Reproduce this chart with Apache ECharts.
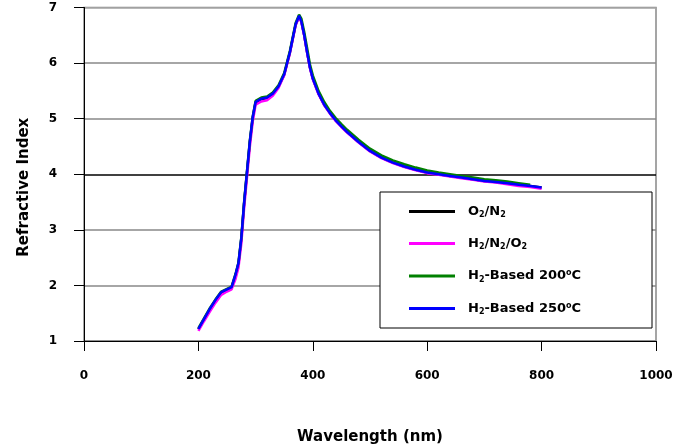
<!DOCTYPE html>
<html>
<head>
<meta charset="utf-8">
<script src="https://cdn.jsdelivr.net/npm/echarts@6/dist/echarts.min.js"></script>
<style>
  html, body { margin: 0; padding: 0; background: #fff; }
  #main { width: 685px; height: 448px; }
</style>
</head>
<body>
<div id="main"></div>
<script>
// wavelengths (nm) shared by the series
const wavelength = [200, 210, 220, 230, 240, 250, 258, 265, 270, 275, 280, 285, 290, 295, 300, 310, 320, 330, 340, 350,
  360, 370, 376, 380, 385, 390, 395, 400, 410, 420, 430, 440, 450, 460, 480, 500, 520, 540, 560, 580,
  600, 620, 640, 660, 680, 700, 720, 740, 760, 780, 800];

const o2n2 = [1.21, 1.39, 1.57, 1.73, 1.87, 1.92, 1.96, 2.18, 2.38, 2.83, 3.48, 4.03, 4.58, 5.01, 5.29, 5.35, 5.37, 5.44, 5.57, 5.79,
  6.19, 6.69, 6.84, 6.75, 6.50, 6.20, 5.92, 5.72, 5.45, 5.25, 5.10, 4.97, 4.86, 4.76, 4.58, 4.42, 4.30, 4.21, 4.14, 4.08,
  4.03, 4.00, 3.97, 3.94, 3.91, 3.88, 3.86, 3.84, 3.81, 3.79, 3.76];

const h2n2o2 = [1.18, 1.36, 1.53, 1.69, 1.83, 1.89, 1.93, 2.12, 2.32, 2.75, 3.40, 3.95, 4.50, 4.95, 5.25, 5.31, 5.33, 5.41, 5.55, 5.78,
  6.18, 6.68, 6.83, 6.74, 6.49, 6.19, 5.91, 5.71, 5.44, 5.24, 5.09, 4.96, 4.85, 4.75, 4.57, 4.41, 4.29, 4.20, 4.13, 4.07,
  4.02, 3.99, 3.96, 3.93, 3.90, 3.87, 3.85, 3.82, 3.79, 3.77, 3.74];

// 200C series stops at 780 nm
const h2based200 = [1.23, 1.41, 1.59, 1.75, 1.89, 1.94, 1.98, 2.21, 2.41, 2.86, 3.51, 4.06, 4.61, 5.04, 5.32, 5.38, 5.40, 5.47, 5.60, 5.82,
  6.22, 6.72, 6.87, 6.80, 6.56, 6.27, 5.98, 5.78, 5.50, 5.30, 5.14, 5.01, 4.90, 4.80, 4.62, 4.46, 4.34, 4.25, 4.18, 4.12,
  4.07, 4.03, 4.00, 3.97, 3.94, 3.91, 3.89, 3.87, 3.84, 3.81, null];

const h2based250 = [1.22, 1.40, 1.58, 1.74, 1.88, 1.93, 1.97, 2.20, 2.40, 2.85, 3.50, 4.05, 4.60, 5.03, 5.30, 5.36, 5.38, 5.45, 5.58, 5.80,
  6.20, 6.70, 6.85, 6.75, 6.50, 6.20, 5.92, 5.72, 5.45, 5.25, 5.10, 4.97, 4.86, 4.76, 4.58, 4.42, 4.30, 4.21, 4.14, 4.08,
  4.03, 4.00, 3.97, 3.94, 3.91, 3.88, 3.86, 3.84, 3.81, 3.79, 3.76];

const seriesNames = ['O2/N2', 'H2/N2/O2', 'H2-Based 200C', 'H2-Based 250C'];
const seriesColors = ['#000000', '#ff00ff', '#008000', '#0000ff'];
const seriesValues = [o2n2, h2n2o2, h2based200, h2based250];

// legend labels with sub/superscripts
const legendRich = {
  'O2/N2': '{b|O}{s|2}{b|/N}{s|2}',
  'H2/N2/O2': '{b|H}{s|2}{b|/N}{s|2}{b|/O}{s|2}',
  'H2-Based 200C': '{b|H}{s|2}{b|-Based 200}{p|o}{b|C}',
  'H2-Based 250C': '{b|H}{s|2}{b|-Based 250}{p|o}{b|C}'
};

const font = 'DejaVu Sans, Liberation Sans, Arial, sans-serif';

function pairs(xs, ys) {
  const out = [];
  xs.forEach((x, i) => { if (ys[i] != null) out.push([x, ys[i]]); });
  return out;
}

const chart = echarts.init(document.getElementById('main'));
chart.setOption({
  animation: false,
  backgroundColor: '#fff',
  grid: {
    left: 84, right: 29, top: 7.5, bottom: 107,
    outerBoundsMode: 'none',
    show: true, borderColor: '#888888', borderWidth: 1.5, backgroundColor: 'transparent'
  },
  graphic: [{
    type: 'rect', left: 379.5, top: 191.5, z: 10,
    shape: { width: 272, height: 136 },
    style: { fill: '#fff', stroke: '#000', lineWidth: 1 }
  }],
  legend: {
    orient: 'vertical',
    left: 409, top: 205,
    padding: 0,
    icon: 'rect',
    itemWidth: 46, itemHeight: 3, itemGap: 18,
    z: 20,
    data: seriesNames,
    formatter: name => legendRich[name],
    textStyle: {
      fontFamily: font, fontWeight: 'bold', fontSize: 13, color: '#000',
      padding: [0, 0, 0, 8],
      rich: {
        b: { fontFamily: font, fontWeight: 'bold', fontSize: 13, color: '#000' },
        s: { fontFamily: font, fontWeight: 'bold', fontSize: 8, color: '#000', padding: [7, 0, 0, 0] },
        p: { fontFamily: font, fontWeight: 'bold', fontSize: 8, color: '#000', padding: [0, 0, 6, 0] }
      }
    }
  },
  xAxis: {
    type: 'value', min: 0, max: 1000, interval: 200,
    name: 'Wavelength (nm)', nameLocation: 'middle', nameGap: 89,
    nameTextStyle: { fontFamily: font, fontWeight: 'bold', fontSize: 15, color: '#000' },
    axisLine: { onZero: false, lineStyle: { color: '#000', width: 1 } },
    axisTick: { show: true, inside: false, length: 10, lineStyle: { color: '#000' } },
    axisLabel: {
      margin: 29, fontFamily: font, fontWeight: 'bold', fontSize: 12, color: '#000',
      formatter: v => String(v)
    },
    splitLine: { show: false }
  },
  yAxis: {
    type: 'value', min: 1, max: 7, interval: 1,
    name: 'Refractive Index', nameLocation: 'middle', nameGap: 52, nameRotate: 90,
    nameTextStyle: { fontFamily: font, fontWeight: 'bold', fontSize: 15, color: '#000', padding: [0, 26, 0, 0] },
    axisLine: { show: true, onZero: false, lineStyle: { color: '#000', width: 1 } },
    axisTick: { show: true, inside: false, length: 10, lineStyle: { color: '#000' } },
    axisLabel: { margin: 27, fontFamily: font, fontWeight: 'bold', fontSize: 12, color: '#000' },
    splitLine: {
      show: true,
      lineStyle: { color: ['#888888', '#888888', '#888888', '#000000', '#888888', '#888888', '#aaaaaa'], width: 1.5 }
    }
  },
  series: seriesNames.map((name, i) => ({
    name: name,
    type: 'line',
    data: pairs(wavelength, seriesValues[i]),
    symbol: 'none',
    color: seriesColors[i],
    lineStyle: { color: seriesColors[i], width: 2.5 },
    z: 2 + i
  }))
});
</script>
</body>
</html>
